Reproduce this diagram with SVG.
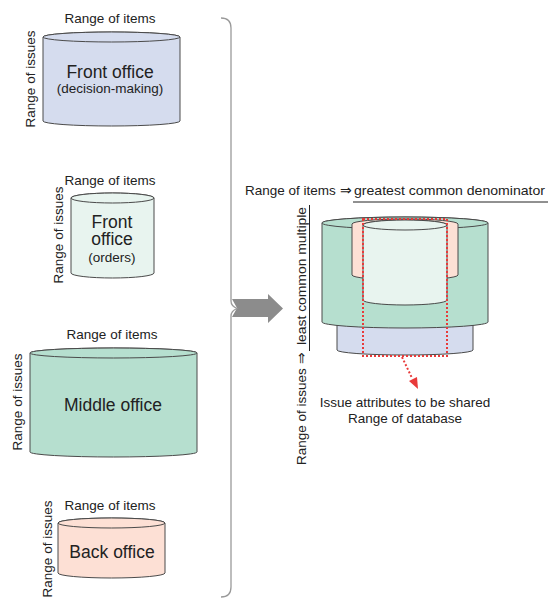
<svg xmlns="http://www.w3.org/2000/svg" width="553" height="598" viewBox="0 0 553 598">
<defs>
<style>
text{font-family:"Liberation Sans",Arial,sans-serif;fill:#222}
.lbl{font-size:13.5px}
.big{font-size:17.5px}
.mid{font-size:13.5px}
.cyl{stroke:#4a4a4a;stroke-width:1}
.blue{fill:#d5dcee}
.mint{fill:#e8f4ef}
.green{fill:#b6dfcf}
.pink{fill:#fde0d5}
.red{fill:none;stroke:#e83a3a;stroke-width:2;stroke-dasharray:2 2}
</style>
</defs>
<rect width="553" height="598" fill="#ffffff"/>

<g id="front-office-decision">
<path class="cyl blue" d="M43,37 V121 A68.5,5 0 0 0 180,121 V37 A68.5,5 0 0 0 43,37 Z"/>
<ellipse class="cyl blue" cx="111.5" cy="37" rx="68.5" ry="5"/>
<text class="lbl" x="110" y="23" text-anchor="middle">Range of items</text>
<text class="lbl" transform="translate(35,79) rotate(-90)" text-anchor="middle">Range of issues</text>
<text class="big" x="110" y="78" text-anchor="middle">Front office</text>
<text class="mid" x="110" y="93" text-anchor="middle">(decision-making)</text>
</g>

<g id="front-office-orders">
<path class="cyl mint" d="M71,198 V273 A41.5,5 0 0 0 154,273 V198 A41.5,5 0 0 0 71,198 Z"/>
<ellipse class="cyl mint" cx="112.5" cy="198" rx="41.5" ry="5"/>
<text class="lbl" x="110" y="185" text-anchor="middle">Range of items</text>
<text class="lbl" transform="translate(63,235) rotate(-90)" text-anchor="middle">Range of issues</text>
<text class="big" text-anchor="middle"><tspan x="112" y="228">Front</tspan><tspan x="112" y="245">office</tspan></text>
<text class="mid" x="112" y="262" text-anchor="middle">(orders)</text>
</g>

<g id="middle-office">
<path class="cyl green" d="M30,353 V452 A83.5,5 0 0 0 197,452 V353 A83.5,5 0 0 0 30,353 Z"/>
<ellipse class="cyl green" cx="113.5" cy="353" rx="83.5" ry="5"/>
<text class="lbl" x="112" y="339" text-anchor="middle">Range of items</text>
<text class="lbl" transform="translate(22,402) rotate(-90)" text-anchor="middle">Range of issues</text>
<text class="big" x="113" y="411" text-anchor="middle">Middle office</text>
</g>

<g id="back-office">
<path class="cyl pink" d="M58,523 V573 A53.5,5 0 0 0 165,573 V523 A53.5,5 0 0 0 58,523 Z"/>
<ellipse class="cyl pink" cx="111.5" cy="523" rx="53.5" ry="5"/>
<text class="lbl" x="110" y="510" text-anchor="middle">Range of items</text>
<text class="lbl" transform="translate(52,549) rotate(-90)" text-anchor="middle">Range of issues</text>
<text class="big" x="112" y="558" text-anchor="middle">Back office</text>
</g>

<g id="connectors">
<polygon points="232,299 268,299 268,294 283,308.5 268,323 268,317 232,317 237,308" fill="#8c8c8c"/>
<path d="M221,18 Q231,18 231,28 V301 Q231,306 237,308.5 Q231,311 231,316 V587 Q231,597 221,597" fill="none" stroke="#9a9a9a" stroke-width="1.3"/>
<line x1="402" y1="357" x2="412" y2="378" stroke="#e83a3a" stroke-width="2" stroke-dasharray="2 2"/>
<polygon points="418,389 409,381 417,377" fill="#e83a3a"/>
</g>

<g id="shared-database">
<path class="cyl blue" d="M337,300 V350 A68,5 0 0 0 473,350 V300 Z"/>
<path class="cyl green" d="M322,223 V322 A83,6 0 0 0 488,322 V223 A83,6 0 0 0 322,223 Z"/>
<ellipse class="cyl green" cx="405" cy="223" rx="83" ry="6"/>
<path class="cyl pink" d="M352,224 V275 A53,5 0 0 0 458,275 V224 A53,5 0 0 0 352,224 Z"/>
<path class="cyl mint" d="M363,225 V300 A42,5 0 0 0 447,300 V225 A42,5 0 0 0 363,225 Z"/>
<ellipse class="cyl mint" cx="405" cy="225" rx="42" ry="5"/>
<rect class="red" x="363" y="219" width="84" height="137"/>
<text class="lbl" x="405" y="407" text-anchor="middle">Issue attributes to be shared</text>
<text class="lbl" x="405" y="423" text-anchor="middle">Range of database</text>
</g>

<g id="axis-labels">
<text class="lbl" x="245" y="195">Range of items ⇒</text>
<text class="lbl" x="545" y="195" text-anchor="end" textLength="191" lengthAdjust="spacingAndGlyphs">greatest common denominator</text>
<line x1="353" y1="202" x2="548" y2="202" stroke="#222" stroke-width="1"/>
<text class="lbl" transform="translate(306,465) rotate(-90)">Range of issues ⇒</text>
<text class="lbl" transform="translate(306,207) rotate(-90)" text-anchor="end" textLength="138" lengthAdjust="spacingAndGlyphs">least common multiple</text>
<line x1="309.5" y1="205" x2="309.5" y2="351" stroke="#222" stroke-width="1"/>
</g>
</svg>
